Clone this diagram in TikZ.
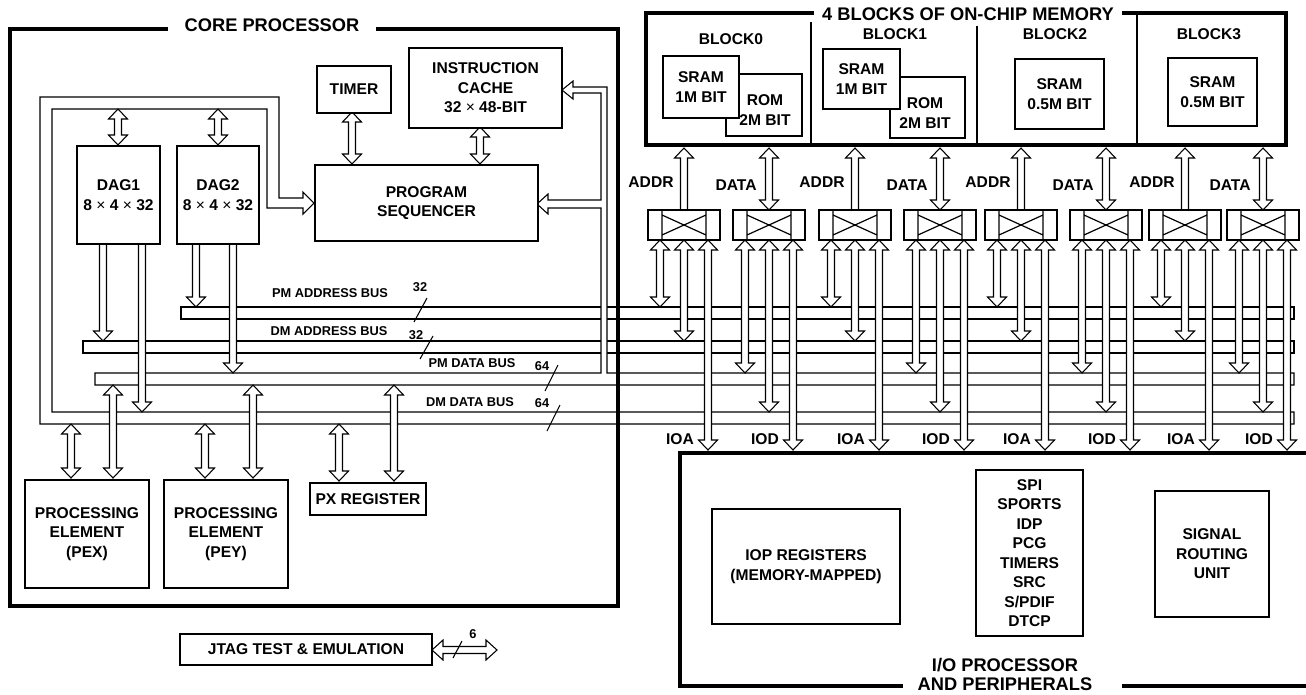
\documentclass[tikz,border=0pt]{standalone}
\usepackage{fontspec}
\setmainfont{Liberation Sans}
\newcommand\BoxFont{\bfseries\fontsize{11.7}{14.6}\selectfont}
\newcommand\TitleFont{\bfseries\fontsize{13.7}{14.3}\selectfont}
\newcommand\BusFont{\bfseries\fontsize{9.6}{11}\selectfont}
% vertical double-headed hollow arrow: x, ytop, ybottom
\newcommand\ArrDV[3]{\draw[arr] (#1,#2) -- ({#1+9.5},{#2+10}) -- ({#1+3.5},{#2+10}) -- ({#1+3.5},{#3-10}) -- ({#1+9.5},{#3-10}) -- (#1,#3) -- ({#1-9.5},{#3-10}) -- ({#1-3.5},{#3-10}) -- ({#1-3.5},{#2+10}) -- ({#1-9.5},{#2+10}) -- cycle;}
% vertical down hollow arrow: x, ystart, ytip
\newcommand\ArrDn[3]{\draw[arr] ({#1-3.5},#2) -- ({#1-3.5},{#3-10}) -- ({#1-9.5},{#3-10}) -- (#1,#3) -- ({#1+9.5},{#3-10}) -- ({#1+3.5},{#3-10}) -- ({#1+3.5},#2);}
% vertical up hollow arrow: x, ytip, ybottom
\newcommand\ArrUp[3]{\draw[arr] ({#1-3.5},#3) -- ({#1-3.5},{#2+10}) -- ({#1-9.5},{#2+10}) -- (#1,#2) -- ({#1+9.5},{#2+10}) -- ({#1+3.5},{#2+10}) -- ({#1+3.5},#3);}
\begin{document}
\begin{tikzpicture}[x=0.75pt,y=-0.75pt,
  arr/.style={draw, fill=white, line width=0.8pt, line join=miter},
  bus/.style={draw, fill=white, line width=0.8pt, line join=miter},
  box/.style={draw, fill=white, line width=1.5pt, inner sep=0pt, align=center, anchor=north west, font=\BoxFont},
  frame/.style={line width=3pt, line join=miter},
  ttl/.style={font=\TitleFont, inner sep=0pt, align=center},
  lbl/.style={font=\BoxFont, inner sep=0pt, align=center},
  blbl/.style={font=\BusFont, inner sep=0pt},
  sz/.style 2 args={minimum width=#1*0.75pt, minimum height=#2*0.75pt},
  xbar/.style={draw, fill=white, line width=1.6pt, inner sep=0pt, minimum width=54pt, minimum height=22.5pt},
]
\useasboundingbox (0,0) rectangle (1306,694);

% ---------------- buses ----------------
\draw[bus] (181,307) rectangle (1294,319);
\draw[bus] (83,341) rectangle (1294,353);
% DM data bus with loop to sequencer
\draw[bus] (1294,412) -- (52,412) -- (52,109) -- (267,109) -- (267,208) -- (303,208) -- (303,214) -- (314,203) -- (303,192) -- (303,198) -- (279,198) -- (279,97) -- (40,97) -- (40,424) -- (1294,424) -- cycle;
% PM data bus with branch to cache / sequencer
\draw[bus] (95,373) -- (601,373) -- (601,208) -- (548,208) -- (548,214) -- (537,204) -- (548,194) -- (548,200) -- (601,200) -- (601,93) -- (573,93) -- (573,99) -- (562,90) -- (573,81) -- (573,87) -- (607,87) -- (607,373) -- (1294,373) -- (1294,385) -- (95,385) -- cycle;

% bus labels and widths
\node[blbl] (pmab) at (330,293) {PM ADDRESS BUS};
\node[blbl] (dmab) at (329,331) {DM ADDRESS BUS};
\node[blbl] (pmdb) at (472,363) {PM DATA BUS};
\node[blbl] (dmdb) at (470,402) {DM DATA BUS};
\node[blbl] (w1) at (420,287) {32};
\node[blbl] (w2) at (416,335) {32};
\node[blbl] (w3) at (542,366) {64};
\node[blbl] (w4) at (542,403) {64};
\draw[line width=0.8pt] (427,298) -- (414,322);
\draw[line width=0.8pt] (433,336) -- (420,359);
\draw[line width=0.8pt] (558,365) -- (545,391);
\draw[line width=0.8pt] (560,405) -- (547,431);

% ---------------- core arrows ----------------
\ArrDV{118}{109}{145}
\ArrDV{218}{109}{145}
\ArrDV{352}{112}{164}
\ArrDV{480}{127}{164}
\ArrDn{103}{243}{341}
\ArrDn{142}{243}{412}
\ArrDn{196}{243}{307}
\ArrDn{233}{243}{373}
\ArrDV{71}{424}{478}
\ArrDV{113}{385}{478}
\ArrDV{205}{424}{478}
\ArrDV{253}{385}{478}
\ArrDV{339}{424}{481}
\ArrDV{394}{385}{481}

% ---------------- core boxes ----------------
\node[box, sz={74}{47}] (timer) at (316,65) {TIMER};
\node[box, sz={153}{80}] (cache) at (408,47) {INSTRUCTION\\CACHE\\32 {\mdseries ×} 48-BIT};
\node[box, sz={223}{76}] (seq) at (314,164) {PROGRAM\\SEQUENCER};
\node[box, sz={83}{98}] (dag1) at (76,145) {DAG1\\8 {\mdseries ×} 4 {\mdseries ×} 32};
\node[box, sz={82}{98}] (dag2) at (176,145) {DAG2\\8 {\mdseries ×} 4 {\mdseries ×} 32};
\node[box, sz={124}{108}] (pex) at (24,479) {PROCESSING\\ELEMENT\\(PEX)};
\node[box, sz={124}{108}] (pey) at (163,479) {PROCESSING\\ELEMENT\\(PEY)};
\node[box, sz={116}{32}] (px) at (309,482) {PX REGISTER};
\node[box, sz={252}{31}] (jtag) at (179,633) {JTAG TEST \& EMULATION};

% JTAG arrow
\draw[arr] (432,650) -- (443,640) -- (443,646.5) -- (486,646.5) -- (486,640) -- (497,650) -- (486,660) -- (486,653.5) -- (443,653.5) -- (443,660) -- cycle;
\draw[line width=0.8pt] (453,658) -- (462,641);
\node[blbl] (w6) at (473,634) {6};

% ---------------- crossbars ----------------
\foreach \c in {684,855,1021,1185} {
  \ArrUp{\c}{148}{210}
  \node[lbl] (addr\c) at (\c-33,182) {ADDR};
  \ArrDV{\c-24}{240}{307}
  \ArrDV{\c}{240}{341}
  \ArrDV{\c+24}{240}{450}
  \node[lbl] (ioa\c) at (\c-4,439) {IOA};
}
\foreach \c in {769,940,1106,1263} {
  \ArrDV{\c}{148}{210}
  \node[lbl] (data\c) at (\c-33,185) {DATA};
  \ArrDV{\c-24}{240}{373}
  \ArrDV{\c}{240}{412}
  \ArrDV{\c+24}{240}{450}
  \node[lbl] (iod\c) at (\c-4,439) {IOD};
}
\foreach \c in {684,769,855,940,1021,1106,1185,1263} {
  \node[xbar] (xb\c) at (\c,225) {};
  \draw[line width=0.9pt] (\c-22,210) -- (\c-22,240) (\c+22,210) -- (\c+22,240)
     (\c-22,215) -- (\c+22,235) (\c-22,235) -- (\c+22,215);
}

% ---------------- memory ----------------
\node[box, sz={76}{62}] (rom0) at (725,73) {};
\node[lbl] (rom0t) at (765,110) {ROM\\2M BIT};
\node[box, sz={76}{62}] (sram0) at (662,55) {SRAM\\1M BIT};
\node[box, sz={75}{61}] (rom1) at (889,76) {};
\node[lbl] (rom1t) at (925,113) {ROM\\2M BIT};
\node[box, sz={77}{60}] (sram1) at (822,48) {SRAM\\1M BIT};
\node[box, sz={89}{70}] (sram2) at (1014,58) {SRAM\\0.5M BIT};
\node[box, sz={89}{68}] (sram3) at (1167,57) {SRAM\\0.5M BIT};
\node[lbl] (b0) at (731,39) {BLOCK0};
\node[lbl] (b1) at (895,34) {BLOCK1};
\node[lbl] (b2) at (1055,34) {BLOCK2};
\node[lbl] (b3) at (1209,34) {BLOCK3};
\draw[line width=1.2pt] (811,22) -- (811,145) (977,26) -- (977,145) (1137,13) -- (1137,145);
\draw[frame] (814,13) -- (646,13) -- (646,145) -- (1286,145) -- (1286,13) -- (1122,13);
\node[ttl] (memt) at (968,14) {4 BLOCKS OF ON-CHIP MEMORY};

% ---------------- I/O processor ----------------
\node[box, sz={188}{115}] (iop) at (711,508) {IOP REGISTERS\\(MEMORY-MAPPED)};
\node[box, sz={107}{166}] (per) at (975,469) {SPI\\SPORTS\\IDP\\PCG\\TIMERS\\SRC\\S/PDIF\\DTCP};
\node[box, sz={114}{126}] (sru) at (1154,490) {SIGNAL\\ROUTING\\UNIT};
\draw[frame] (1306,453) -- (680,453) -- (680,686) -- (903,686) (1122,686) -- (1306,686);
\node[ttl] (iot) at (1005,674) {I/O PROCESSOR\\AND PERIPHERALS};

% ---------------- core frame ----------------
\draw[frame] (168,29) -- (10,29) -- (10,606) -- (618,606) -- (618,29) -- (376,29);
\node[ttl] (coret) at (272,25) {CORE PROCESSOR};
\end{tikzpicture}
\end{document}
